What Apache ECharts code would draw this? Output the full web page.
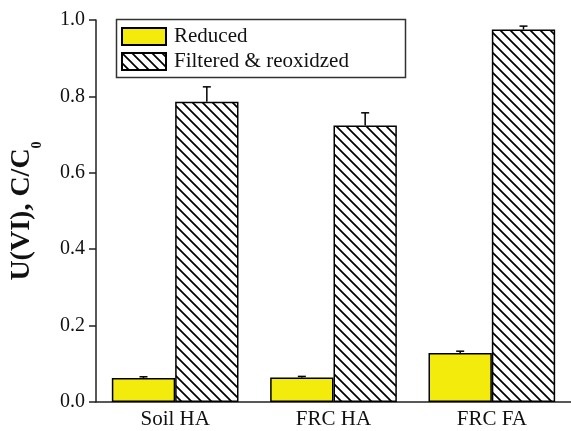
<!DOCTYPE html>
<html><head><meta charset="utf-8">
<script src="https://cdn.jsdelivr.net/npm/echarts@6/dist/echarts.min.js"></script>
<style>html,body{margin:0;padding:0;background:#fff}#c{width:571px;height:431px}</style>
</head><body><div id="c"></div>
<script>
const categories = ['Soil HA', 'FRC HA', 'FRC FA'];
const reduced = [0.063, 0.064, 0.128];
const reducedErr = [0.003, 0.003, 0.005];
const reoxidized = [0.786, 0.724, 0.975];
const reoxidizedErr = [0.039, 0.033, 0.009];
const seriesNames = ['Reduced', 'Filtered & reoxidzed'];

function hatch() {
  const s = 10;
  const c = document.createElement('canvas');
  c.width = s; c.height = s;
  const g = c.getContext('2d');
  g.fillStyle = '#fff'; g.fillRect(0, 0, s, s);
  g.strokeStyle = '#000'; g.lineWidth = 1.7;
  g.beginPath();
  g.moveTo(-2, -2); g.lineTo(s + 2, s + 2);
  g.moveTo(-2, s - 2); g.lineTo(2, s + 2);
  g.moveTo(s - 2, -2); g.lineTo(s + 2, 2);
  g.stroke();
  return c;
}

const font = 'Liberation Serif, Times New Roman, serif';
const chart = echarts.init(document.getElementById('c'), null, {renderer: 'canvas'});

function errSeries(vals, errs, sign) {
  return {
    type: 'custom',
    z: 5,
    data: vals.map((v, i) => [i, v, errs[i]]),
    renderItem: function (params, api) {
      const idx = api.value(0);
      const v = api.value(1);
      const e = api.value(2);
      const off = api.size([1, 0])[0] * 0.2 * sign;
      const p0 = api.coord([idx, v]);
      const p1 = api.coord([idx, v + e]);
      const x = p0[0] + off;
      const st = {stroke: '#000', lineWidth: 1.5};
      return {type: 'group', children: [
        {type: 'line', shape: {x1: x, y1: p0[1], x2: x, y2: p1[1]}, style: st},
        {type: 'line', shape: {x1: x - 4, y1: p1[1], x2: x + 4, y2: p1[1]}, style: st}
      ]};
    }
  };
}

chart.setOption({
  animation: false,
  backgroundColor: '#fff',
  grid: {left: 92, right: -1, top: 20, bottom: 29, containLabel: false},
  legend: {
    data: seriesNames,
    orient: 'vertical',
    left: 121, top: 26, padding: 0,
    itemWidth: 44, itemHeight: 17, itemGap: 4,
    icon: 'rect',
    textStyle: {fontFamily: font, fontSize: 21, color: '#111', padding: [0, 0, 0, 3]}
  },
  graphic: [{
    type: 'rect', left: 114, top: 17,
    shape: {width: 289, height: 58},
    style: {fill: 'none', stroke: '#333', lineWidth: 1.5}, z: 10
  }],
  xAxis: {
    type: 'category',
    data: categories,
    axisLine: {lineStyle: {color: '#222', width: 1.5}},
    axisTick: {alignWithLabel: true, length: 8, lineStyle: {color: '#222', width: 1.5}},
    axisLabel: {fontFamily: font, fontSize: 21, color: '#111', margin: 7}
  },
  yAxis: {
    type: 'value', min: 0, max: 1.0, interval: 0.2,
    splitLine: {show: false},
    axisLine: {show: true, lineStyle: {color: '#222', width: 1.5}},
    axisTick: {show: true, length: 7, lineStyle: {color: '#222', width: 1.5}},
    axisLabel: {fontFamily: font, fontSize: 20, color: '#111', margin: 11,
      formatter: v => v.toFixed(1)},
    name: '{a|U(VI), C/C}{b|0}',
    nameLocation: 'middle',
    nameGap: 52,
    nameRotate: 90,
    nameTextStyle: {
      rich: {
        a: {fontFamily: font, fontSize: 28, fontWeight: 'bold', color: '#111', lineHeight: 36, verticalAlign: 'top'},
        b: {fontFamily: font, fontSize: 14, fontWeight: 'bold', color: '#111', lineHeight: 14, verticalAlign: 'bottom'}
      }
    }
  },
  series: [
    {
      name: seriesNames[0], type: 'bar', data: reduced,
      barWidth: '40%', barGap: '0%',
      itemStyle: {color: '#f3eb0c', borderColor: '#000', borderWidth: 1.5}
    },
    {
      name: seriesNames[1], type: 'bar', data: reoxidized,
      barWidth: '40%', barGap: '0%',
      itemStyle: {color: {image: hatch(), repeat: 'repeat'}, borderColor: '#000', borderWidth: 1.5}
    },
    errSeries(reduced, reducedErr, -1),
    errSeries(reoxidized, reoxidizedErr, 1)
  ]
});
</script></body></html>
